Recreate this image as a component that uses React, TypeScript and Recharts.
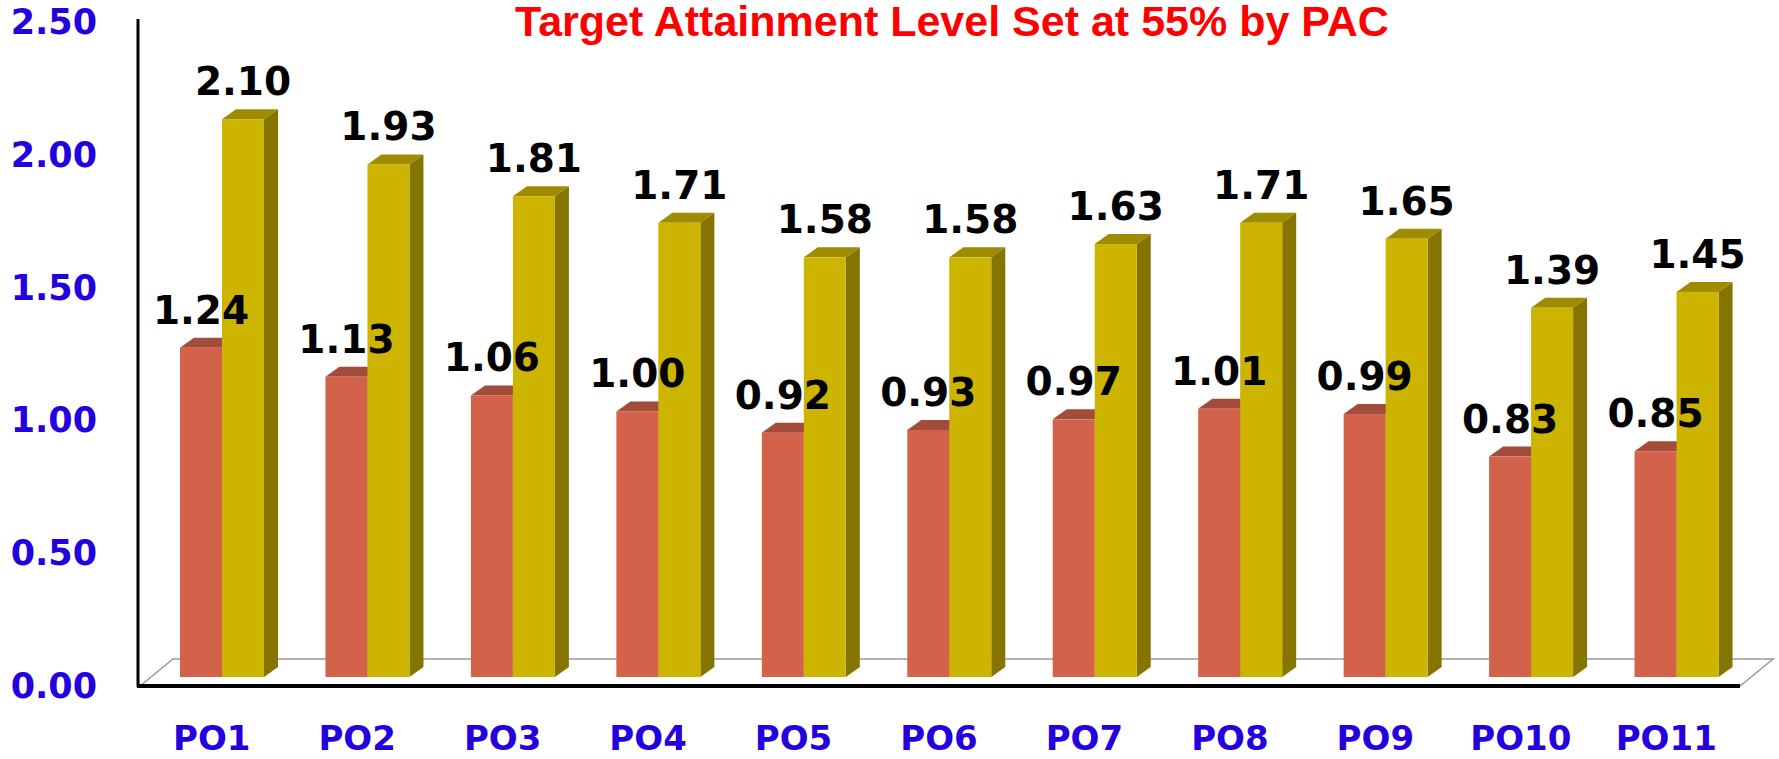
import { BarChart, Bar, XAxis, YAxis, LabelList } from "recharts";

const categories = ["PO1", "PO2", "PO3", "PO4", "PO5", "PO6", "PO7", "PO8", "PO9", "PO10", "PO11"];
const attained = [1.24, 1.13, 1.06, 1.0, 0.92, 0.93, 0.97, 1.01, 0.99, 0.83, 0.85];
const target = [2.1, 1.93, 1.81, 1.71, 1.58, 1.58, 1.63, 1.71, 1.65, 1.39, 1.45];
const yTicks = [0, 0.5, 1, 1.5, 2, 2.5];

const W = 1779;
const H = 759;
const M = { top: 13, right: 30, bottom: 12, left: 9 };
const Y_AXIS_W = 140;
const X_AXIS_H = 70;
const PLOT_L = M.left + Y_AXIS_W;
const PLOT_R = W - M.right;
const PLOT_B = H - M.bottom - X_AXIS_H;

const DX = 14;
const DY = 10;
const BOLD = "'DejaVu Sans', Verdana, sans-serif";

const data = categories.map((c, i) => ({ name: c, attained: attained[i], target: target[i] }));

function Box3D(props: any) {
  const { x, y, width, height, fill, topFill, sideFill } = props;
  if (!width || height == null) return null;
  const r = x + width;
  const b = y + height;
  return (
    <g>
      <polygon points={`${r},${y} ${r + DX},${y - DY} ${r + DX},${b - DY} ${r},${b}`} fill={sideFill} />
      <polygon points={`${x},${y} ${x + DX},${y - DY} ${r + DX},${y - DY} ${r},${y}`} fill={topFill} />
      <rect x={x} y={y} width={width} height={height} fill={fill} />
    </g>
  );
}

// floor + the two black axis lines
function Floor() {
  return (
    <g>
      <polygon
        points={`${PLOT_L - 9},${PLOT_B + 9} ${PLOT_L + 24},${PLOT_B - 18} ${PLOT_R + 24},${PLOT_B - 18} ${PLOT_R - 9},${PLOT_B + 9}`}
        fill="none"
        stroke="#9a9a9a"
        strokeWidth={1.5}
      />
      <line x1={PLOT_L - 11} y1={M.top + 6} x2={PLOT_L - 11} y2={PLOT_B + 10} stroke="#000" strokeWidth={3} />
      <line x1={PLOT_L - 12} y1={PLOT_B + 9} x2={PLOT_R - 9} y2={PLOT_B + 9} stroke="#000" strokeWidth={4} />
    </g>
  );
}

const valueLabel = (p: any) => (
  <text
    x={p.x + p.width / 2}
    y={p.y - 24}
    textAnchor="middle"
    fontFamily={BOLD}
    fontWeight="bold"
    fontSize={39}
    fill="#000"
  >
    {Number(p.value).toFixed(2)}
  </text>
);

const yTick = (p: any) => (
  <text
    x={97}
    y={p.y + 9}
    textAnchor="end"
    dominantBaseline="central"
    fontFamily={BOLD}
    fontWeight="bold"
    fontSize={35}
    fill="#2400e0"
  >
    {Number(p.payload.value).toFixed(2)}
  </text>
);

const xTick = (p: any) => (
  <text
    x={p.x - 10}
    y={PLOT_B + 61}
    textAnchor="middle"
    dominantBaseline="central"
    fontFamily={BOLD}
    fontWeight="bold"
    fontSize={34}
    fill="#2400e0"
  >
    {p.payload.value}
  </text>
);

export default function App() {
  return (
    <div style={{ position: "absolute", left: 0, top: 0, width: W, height: H, background: "#fff" }}>
      <BarChart width={W} height={H} data={data} margin={M} barGap={0} barSize={42}>
        <Floor />
        <XAxis dataKey="name" axisLine={false} tickLine={false} height={X_AXIS_H} tick={xTick} interval={0} />
        <YAxis
          domain={[0, 2.5]}
          ticks={yTicks}
          interval={0}
          width={Y_AXIS_W}
          axisLine={false}
          tickLine={false}
          tick={yTick}
        />
        <Bar
          dataKey="attained"
          fill="#d2634a"
          isAnimationActive={false}
          shape={(p: any) => <Box3D {...p} topFill="#a34c3b" sideFill="#8a3f31" />}
        >
          <LabelList dataKey="attained" content={valueLabel} />
        </Bar>
        <Bar
          dataKey="target"
          fill="#cdb400"
          isAnimationActive={false}
          shape={(p: any) => <Box3D {...p} topFill="#9e8b00" sideFill="#857400" />}
        >
          <LabelList dataKey="target" content={valueLabel} />
        </Bar>
      </BarChart>
      <div
        style={{
          position: "absolute",
          left: 452,
          top: 0,
          width: 1000,
          textAlign: "center",
          fontFamily: "'Liberation Sans', Arial, sans-serif",
          fontWeight: "bold",
          fontSize: 43,
          lineHeight: "43px",
          color: "#ff0000",
          whiteSpace: "nowrap",
        }}
      >
        Target Attainment Level Set at 55% by PAC
      </div>
    </div>
  );
}
